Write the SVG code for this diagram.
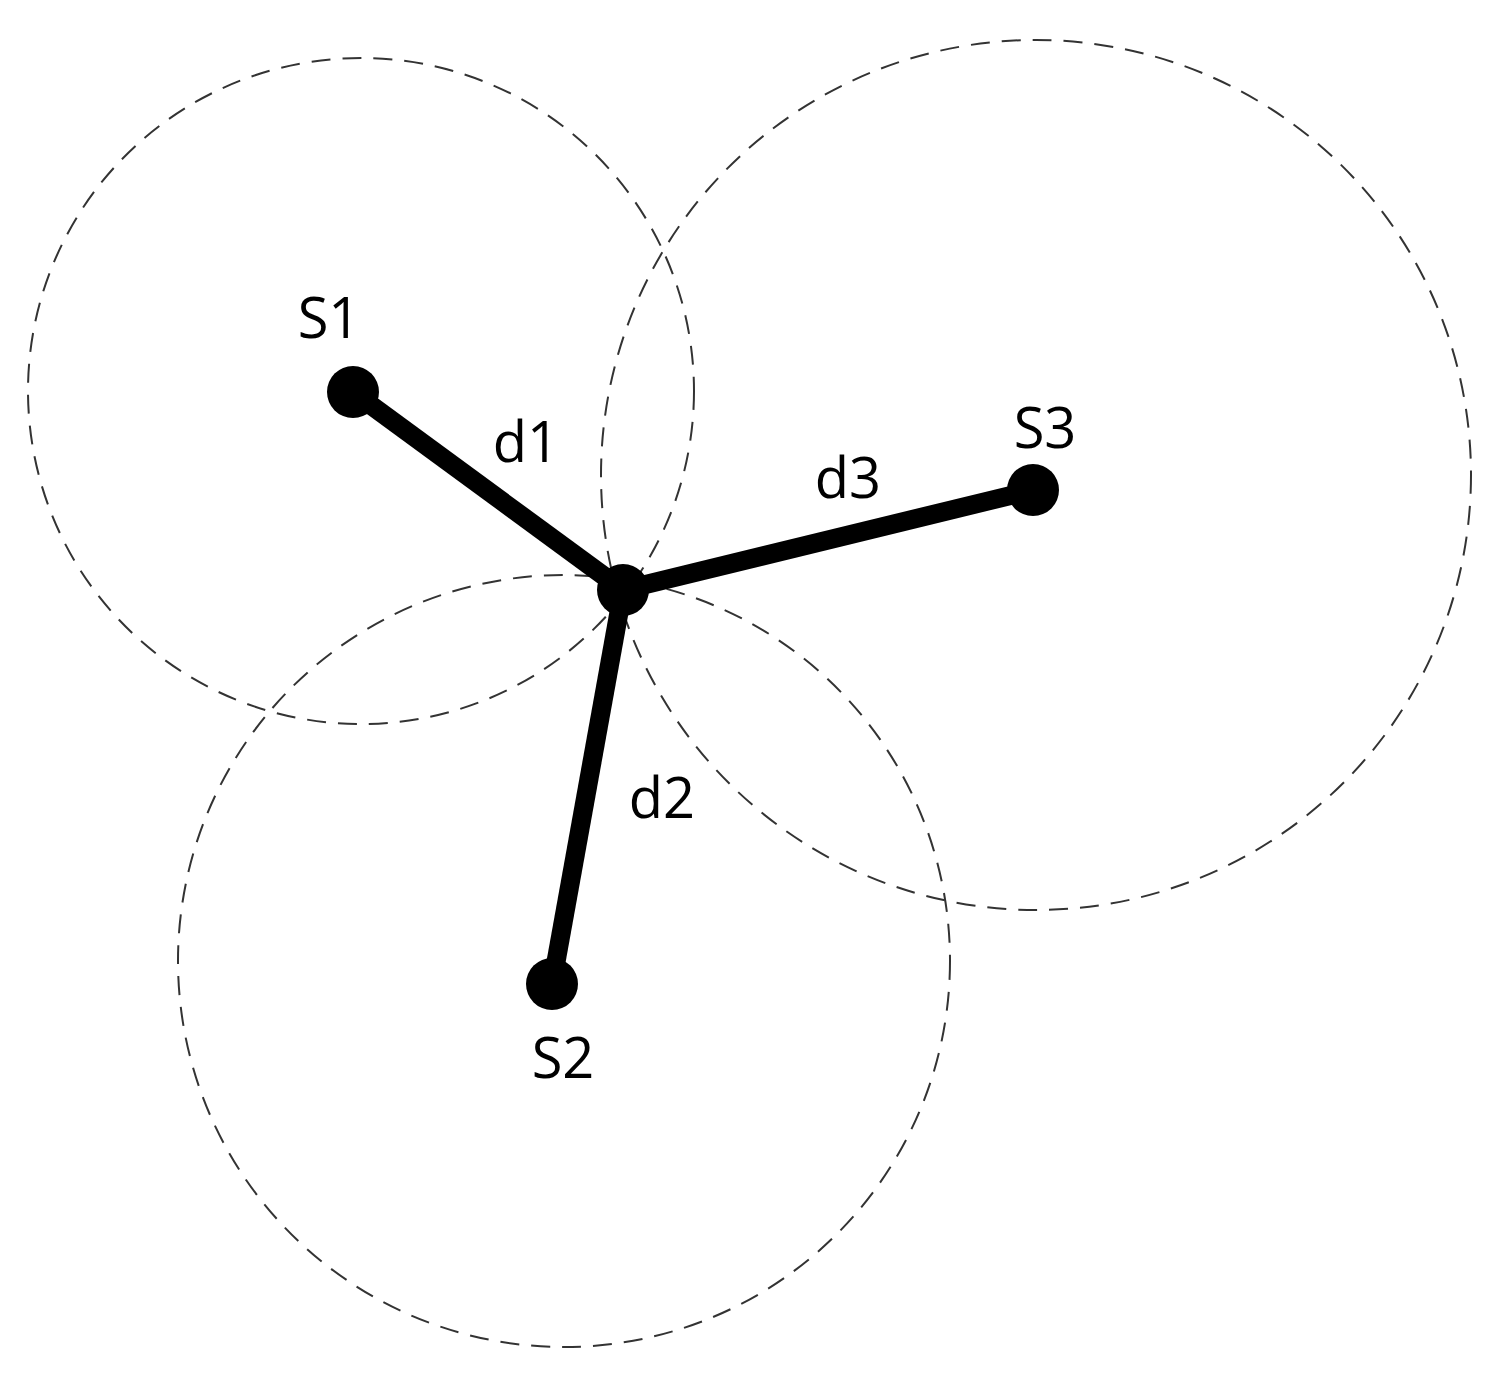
<svg xmlns="http://www.w3.org/2000/svg" width="1505" height="1374" viewBox="0 0 1505 1374">
<style>
.range{fill:none;stroke:#333;stroke-width:2;stroke-dasharray:19 12}
.edge{stroke:#000;stroke-width:19;stroke-linecap:butt}
.dot{fill:#000}
.lbl{font-family:"Open Sans","Noto Sans",sans-serif;font-size:56px;fill:#000;text-anchor:middle}
</style>
<rect width="1505" height="1374" fill="#fff"/>
<g id="ranges">
<circle id="range-s1" class="range" cx="361" cy="391" r="333"/>
<circle id="range-s2" class="range" cx="564" cy="961" r="386"/>
<circle id="range-s3" class="range" cx="1036" cy="475" r="435"/>
</g>
<g id="connectors">
<line class="edge" x1="353" y1="392" x2="623" y2="590"/>
<line class="edge" x1="552" y1="984" x2="623" y2="590"/>
<line class="edge" x1="1033" y1="490" x2="623" y2="590"/>
</g>
<g id="labels-d">
<text class="lbl" x="526" y="462">d1</text>
<text class="lbl" x="662" y="818">d2</text>
<text class="lbl" x="848" y="498">d3</text>
</g>
<g id="node-s1">
<circle class="dot" cx="353" cy="392" r="26"/>
<text class="lbl" x="329" y="338">S1</text>
</g>
<g id="node-s2">
<circle class="dot" cx="552" cy="984" r="26"/>
<text class="lbl" x="563" y="1078">S2</text>
</g>
<g id="node-s3">
<circle class="dot" cx="1033" cy="490" r="26"/>
<text class="lbl" x="1045" y="448">S3</text>
</g>
<g id="node-target">
<circle class="dot" cx="623" cy="590" r="26"/>
</g>
</svg>
